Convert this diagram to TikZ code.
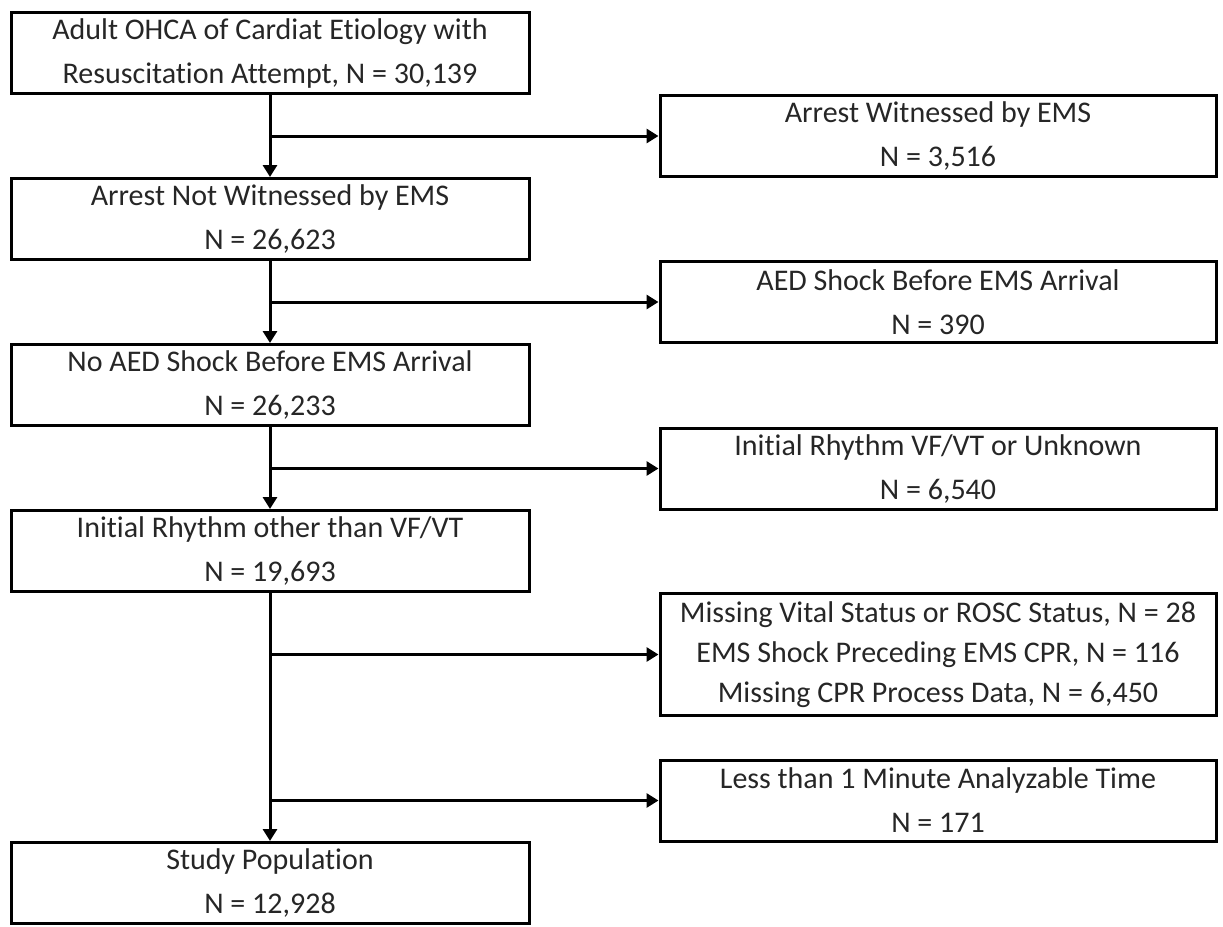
\documentclass[tikz,border=0pt]{standalone}
\usepackage{fontspec}
\setmainfont{Carlito}[Ligatures={NoCommon,NoContextual}]
\usetikzlibrary{positioning,arrows.meta,calc}
\tikzset{
  >={Triangle[length=6pt,width=7pt]},
  node distance=41pt,
  line/.style={line width=1.5pt},
  flowbox/.style={draw=black,line width=1.5pt,align=center,inner xsep=2pt,inner ysep=0pt,
    minimum width=259pt,minimum height=40.5pt,
    font=\fontsize{15}{22}\selectfont,text=black!85,
    execute at begin node={\rule{0pt}{17pt}}},
  exclbox/.style={flowbox,minimum width=278pt},
  tallbox/.style={exclbox,minimum height=61pt,font=\fontsize{15}{20}\selectfont}
}
\begin{document}
\begin{tikzpicture}[x=0.5pt,y=-0.5pt]
  \useasboundingbox (0,0) rectangle (1223,927);

  % main column
  \node [flowbox] (total) at (270,53) {Adult OHCA of Cardiat Etiology with\\Resuscitation Attempt, N = 30,139};
  \node [flowbox,below=of total] (notwit) {Arrest Not Witnessed by EMS\\N = 26,623};
  \node [flowbox,below=of notwit] (noaed) {No AED Shock Before EMS Arrival\\N = 26,233};
  \node [flowbox,below=of noaed] (nonvf) {Initial Rhythm other than VF/VT\\N = 19,693};
  \node [flowbox,below=124pt of nonvf] (study) {Study Population\\N = 12,928};

  % exclusions
  \node [exclbox,right=64pt of total,yshift=-41.5pt] (wit) {Arrest Witnessed by EMS\\N = 3,516};
  \node [exclbox,right=64pt of notwit,yshift=-41.5pt] (aed) {AED Shock Before EMS Arrival\\N = 390};
  \node [exclbox,right=64pt of noaed,yshift=-41.75pt] (vfvt) {Initial Rhythm VF/VT or Unknown\\N = 6,540};
  \node [tallbox,right=64pt of nonvf,yshift=-51.75pt] (miss) {Missing Vital Status or ROSC Status, N = 28\\EMS Shock Preceding EMS CPR, N = 116\\Missing CPR Process Data, N = 6,450};
  \node [exclbox,right=64pt of study,yshift=41.25pt] (short) {Less than 1 Minute Analyzable Time\\N = 171};

  \path[line,->] (total) edge (notwit)
        (notwit) edge (noaed)
        (noaed) edge (nonvf)
        (nonvf) edge (study);
  \draw[line,->] (total.south |- wit) -- (wit);
  \draw[line,->] (notwit.south |- aed) -- (aed);
  \draw[line,->] (noaed.south |- vfvt) -- (vfvt);
  \draw[line,->] (nonvf.south |- miss) -- (miss);
  \draw[line,->] (nonvf.south |- short) -- (short);

\end{tikzpicture}
\end{document}
